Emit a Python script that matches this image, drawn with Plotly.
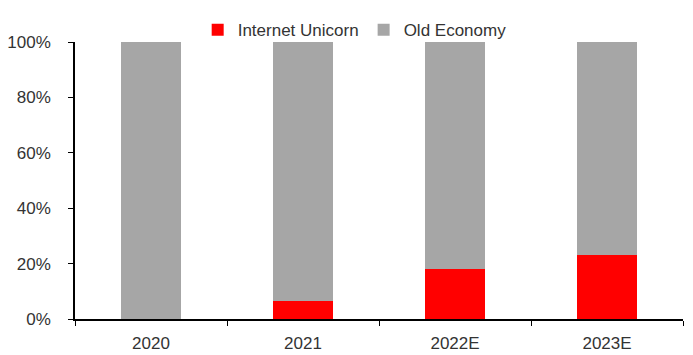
import plotly.graph_objects as go

categories = ["2020", "2021", "2022E", "2023E"]
internet_unicorn = [0.0, 6.5, 18.0, 23.0]
old_economy = [100.0 - v for v in internet_unicorn]
y_ticks = [0, 20, 40, 60, 80, 100]
y_tick_labels = [f"{t}%" for t in y_ticks]

fig = go.Figure()
fig.add_trace(go.Bar(name="Internet Unicorn", x=categories, y=internet_unicorn,
                     marker=dict(color="#ff0000", line=dict(width=0))))
fig.add_trace(go.Bar(name="Old Economy", x=categories, y=old_economy,
                     marker=dict(color="#a6a6a6", line=dict(width=0))))

fig.update_layout(
    barmode="stack",
    bargap=0.6,
    width=693, height=355,
    margin=dict(l=75, r=10, t=42, b=36, autoexpand=False),
    paper_bgcolor="white", plot_bgcolor="white",
    font=dict(family="Liberation Sans, Arial, sans-serif", size=17, color="#333"),
    legend=dict(orientation="h", x=0.46, xanchor="center", y=1.043, yanchor="middle",
                font=dict(size=17), itemwidth=30, traceorder="normal",
                bgcolor="rgba(0,0,0,0)"),
    xaxis=dict(showline=True, linecolor="black", linewidth=1.5, ticks="outside",
               tickson="boundaries", ticklen=5, tickcolor="black", showgrid=False,
               ticklabelstandoff=8, automargin=False),
    yaxis=dict(range=[0, 100], tickvals=y_ticks, ticktext=y_tick_labels,
               showline=True, linecolor="black", linewidth=1.5, ticks="outside",
               ticklen=5, tickcolor="black", showgrid=False, zeroline=False,
               ticklabelstandoff=14, automargin=False),
)
fig.write_html("out.html")
